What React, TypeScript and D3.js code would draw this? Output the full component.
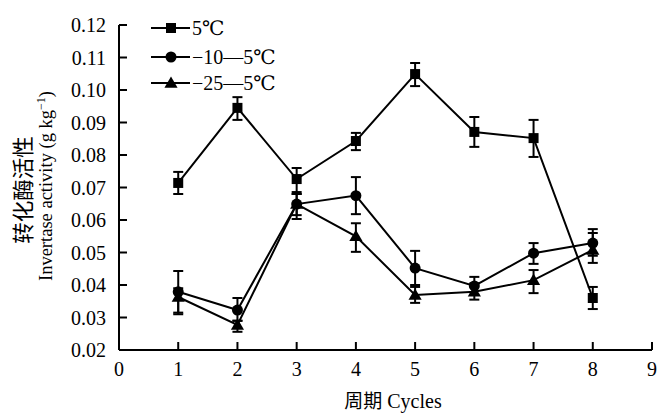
import React from "react";
import * as d3 from "d3";

const cycles = [1, 2, 3, 4, 5, 6, 7, 8];
const seriesNames = ["5℃", "−10—5℃", "−25—5℃"];
const markers = ["square", "circle", "triangle"];
const s5 = [0.0714, 0.0945, 0.0726, 0.0843, 0.1049, 0.0871, 0.0852, 0.036];
const s5Lo = [0.068, 0.0908, 0.0686, 0.0815, 0.1012, 0.0825, 0.0794, 0.0326];
const s5Hi = [0.0748, 0.0978, 0.076, 0.0868, 0.1083, 0.0917, 0.0908, 0.0394];
const s10 = [0.0379, 0.0323, 0.0649, 0.0675, 0.0452, 0.0397, 0.0498, 0.0529];
const s10Lo = [0.0315, 0.029, 0.0615, 0.0618, 0.04, 0.037, 0.0465, 0.049];
const s10Hi = [0.0443, 0.036, 0.068, 0.0732, 0.0505, 0.0425, 0.0529, 0.0572];
const s25 = [0.0363, 0.0277, 0.0649, 0.055, 0.0369, 0.0379, 0.0415, 0.0508];
const s25Lo = [0.031, 0.0256, 0.0603, 0.0502, 0.0345, 0.0355, 0.0375, 0.0468];
const s25Hi = [0.039, 0.029, 0.068, 0.059, 0.0394, 0.0405, 0.0446, 0.056];
const xTicks = [0, 1, 2, 3, 4, 5, 6, 7, 8, 9];
const yTicks = [0.02, 0.03, 0.04, 0.05, 0.06, 0.07, 0.08, 0.09, 0.1, 0.11, 0.12];

const series = [
  { name: seriesNames[0], marker: markers[0], v: s5, lo: s5Lo, hi: s5Hi },
  { name: seriesNames[1], marker: markers[1], v: s10, lo: s10Lo, hi: s10Hi },
  { name: seriesNames[2], marker: markers[2], v: s25, lo: s25Lo, hi: s25Hi },
];

const FONT = "'Liberation Serif', 'DejaVu Serif', serif";
const CJK = "'Noto Sans CJK SC', sans-serif";

function Marker({ type, x, y }: { type: string; x: number; y: number }) {
  if (type === "square") return <rect x={x - 5} y={y - 5} width={10} height={10} fill="#000" />;
  if (type === "circle") return <circle cx={x} cy={y} r={5.5} fill="#000" />;
  const sym = d3.symbol(d3.symbolTriangle, 75)();
  return <path d={sym as string} transform={`translate(${x},${y + 1})`} fill="#000" />;
}

export default function App() {
  const W = 661, H = 417;
  const x = d3.scaleLinear().domain([0, 9]).range([119, 652]);
  const y = d3.scaleLinear().domain([0.02, 0.12]).range([350, 25]);
  const line = d3.line<number>().x((_, i) => x(cycles[i])).y((d) => y(d));

  return (
    <svg width={W} height={H} style={{ position: "absolute", left: 0, top: 0, background: "#fff", fontFamily: FONT }}>
      {/* axes */}
      <line x1={x(0)} x2={x(0)} y1={y(0.12)} y2={y(0.02)} stroke="#000" strokeWidth={2} />
      <line x1={x(0)} x2={x(9)} y1={y(0.02)} y2={y(0.02)} stroke="#000" strokeWidth={2} />
      {yTicks.map((t) => (
        <g key={t}>
          <line x1={x(0)} x2={x(0) + 8} y1={y(t)} y2={y(t)} stroke="#000" strokeWidth={2} />
          <text x={x(0) - 13} y={y(t)} dy="0.35em" textAnchor="end" fontSize={20} style={{ fontFamily: FONT }}>
            {t.toFixed(2)}
          </text>
        </g>
      ))}
      {xTicks.map((t) => (
        <g key={t}>
          {t > 0 && <line x1={x(t)} x2={x(t)} y1={y(0.02)} y2={y(0.02) - 8} stroke="#000" strokeWidth={2} />}
          <text x={x(t)} y={y(0.02) + 26} textAnchor="middle" fontSize={20} style={{ fontFamily: FONT }}>
            {t}
          </text>
        </g>
      ))}
      <text x={393} y={408} textAnchor="middle" fontSize={20} style={{ fontFamily: FONT }}>
        <tspan style={{ fontFamily: CJK }} fontSize={19}>周期</tspan> Cycles
      </text>
      <g transform="translate(31,190) rotate(-90)">
        <text x={0} y={0} textAnchor="middle" fontSize={21.5} style={{ fontFamily: CJK }}>
          转化酶活性
        </text>
      </g>
      <g transform="translate(52,186) rotate(-90)">
        <text x={0} y={0} textAnchor="middle" fontSize={18.5} style={{ fontFamily: FONT }}>
          Invertase activity (g kg
          <tspan dy={-7} fontSize={12}>−1</tspan>
          <tspan dy={7}>)</tspan>
        </text>
      </g>
      {/* series */}
      {series.map((s, si) => (
        <g key={si}>
          <path d={line(s.v) as string} fill="none" stroke="#000" strokeWidth={2} />
          {s.v.map((v, i) => (
            <g key={i}>
              <line x1={x(cycles[i])} x2={x(cycles[i])} y1={y(s.lo[i])} y2={y(s.hi[i])} stroke="#000" strokeWidth={2} />
              <line x1={x(cycles[i]) - 5} x2={x(cycles[i]) + 5} y1={y(s.lo[i])} y2={y(s.lo[i])} stroke="#000" strokeWidth={2} />
              <line x1={x(cycles[i]) - 5} x2={x(cycles[i]) + 5} y1={y(s.hi[i])} y2={y(s.hi[i])} stroke="#000" strokeWidth={2} />
              <Marker type={s.marker} x={x(cycles[i])} y={y(v)} />
            </g>
          ))}
        </g>
      ))}
      {/* legend */}
      {series.map((s, si) => {
        const ly = [28, 57, 83][si];
        return (
          <g key={si}>
            <line x1={151} x2={190} y1={ly} y2={ly} stroke="#000" strokeWidth={2} />
            <Marker type={s.marker} x={171} y={ly} />
            <text x={192} y={ly} dy="0.35em" fontSize={20} style={{ fontFamily: FONT }}>
              {s.name}
            </text>
          </g>
        );
      })}
    </svg>
  );
}
